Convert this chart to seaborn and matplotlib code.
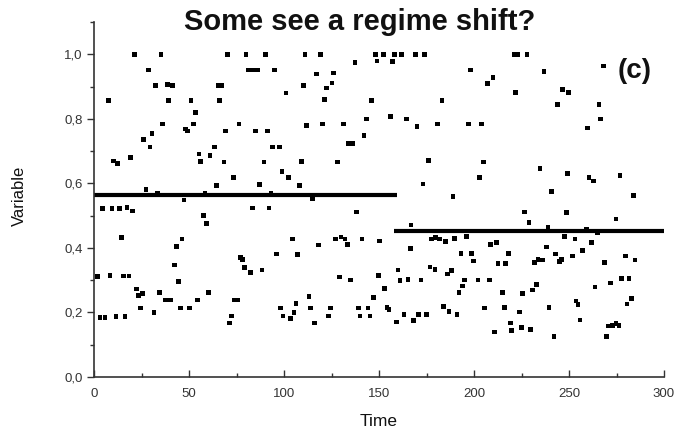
import matplotlib
matplotlib.use("Agg")
import matplotlib.pyplot as plt
from matplotlib.ticker import MultipleLocator, FuncFormatter
import seaborn as sns
import pandas as pd

# Observations: time step and measured variable
time = [
    1.8, 3.2, 4.4, 5.8, 7.5, 8.4, 9.5, 10.2, 11.6, 12.3, 13.5, 14.6, 15.4, 16.3, 17.4,
    18.4, 19.1, 20.4, 21.2, 22.3, 23.5, 24.4, 25.6, 26.1, 27.4, 28.6, 29.5, 30.5, 31.6,
    32.4, 33.3, 34.4, 35.3, 36.1, 37.7, 38.6, 39.3, 40.3, 41.2, 42.5, 43.3, 44.4, 45.4,
    46.3, 47.4, 48.2, 49.1,
    50.2, 51.0, 52.3, 53.3, 54.4, 55.3, 56.1, 57.5, 58.4, 59.1, 60.2, 61.1, 63.3, 64.4,
    65.3, 66.1, 67.4, 68.4, 69.3, 70.4, 71.2, 72.5, 73.5, 73.8, 75.8, 76.3, 77.2, 78.3,
    79.3, 80.0, 81.2, 82.3, 83.3, 83.5, 85.1, 86.1, 87.2, 88.4, 89.5, 90.4, 91.4, 92.1,
    93.2, 94.0, 94.9, 96.0, 97.5, 98.2, 98.9, 99.5,
    101.0, 102.3, 103.3, 104.4, 105.3, 106.3, 107.2, 108.3, 109.3, 110.2, 111.1, 111.9,
    113.2, 114.0, 115.1, 116.0, 117.2, 118.3, 119.1, 120.2, 121.2, 122.3, 123.5, 124.4,
    125.3, 126.0, 127.0, 128.0, 129.3, 130.0, 131.2, 132.1, 133.3, 134.0, 135.1, 136.2,
    137.4, 138.3, 139.1, 140.0, 141.0, 142.1, 143.3, 144.2, 145.3, 146.1, 147.2, 148.3,
    149.0, 149.6, 150.4,
    152.3, 153.0, 154.2, 155.3, 155.9, 157.0, 158.0, 159.1, 160.0, 161.0, 161.7, 163.2,
    164.4, 165.3, 166.5, 166.8, 168.0, 169.1, 170.0, 170.9, 172.1, 173.2, 173.8, 175.1,
    176.0, 176.8, 177.7, 179.5, 179.8, 180.9, 181.7, 183.2, 183.8, 185.1, 186.2, 186.8,
    188.0, 188.9, 189.8, 191.0, 192.1, 193.2, 194.0, 194.9, 196.0, 197.2, 198.3, 198.8,
    199.6,
    202.1, 203.0, 204.0, 204.9, 205.6, 207.0, 208.1, 208.8, 210.0, 210.9, 211.9, 212.6,
    214.9, 216.0, 216.5, 218.3, 219.1, 219.8, 221.2, 222.0, 222.8, 224.0, 225.1, 225.6,
    226.7, 227.9, 228.9, 229.6, 230.9, 231.7, 232.8, 233.7, 234.7, 236.2, 236.8, 238.1,
    238.9, 239.5, 240.7, 242.1, 243.0, 244.0, 244.9, 246.2, 246.7, 247.5, 248.6, 249.3,
    249.8,
    251.7, 253.2, 253.7, 254.7, 255.8, 257.0, 259.3, 259.6, 260.5, 261.7, 262.8, 263.7,
    264.9, 265.8, 266.7, 268.1, 268.8, 269.6, 270.7, 271.9, 273.0, 274.7, 274.7, 276.3,
    276.8, 277.7, 279.8, 280.5, 281.6, 282.8, 283.8, 284.7,
]
variable = [
    0.311, 0.185, 0.523, 0.185, 0.856, 0.315, 0.523, 0.669, 0.187, 0.662, 0.523, 0.433, 0.313, 0.188, 0.525,
    0.313, 0.680, 0.514, 1.000, 0.273, 0.252, 0.214, 0.258, 0.736, 0.581, 0.951, 0.713, 0.754, 0.200,
    0.904, 0.569, 0.262, 1.000, 0.784, 0.238, 0.907, 0.856, 0.238, 0.904, 0.347, 0.405, 0.296, 0.214,
    0.428, 0.549, 0.769, 0.762,
    0.214, 0.856, 0.784, 0.819, 0.238, 0.691, 0.668, 0.500, 0.569, 0.475, 0.262, 0.687, 0.713, 0.594,
    0.904, 0.856, 0.904, 0.666, 0.762, 1.000, 0.167, 0.189, 0.618, 0.238, 0.238, 0.784, 0.370, 0.364,
    0.339, 1.000, 0.951, 0.324, 0.524, 0.951, 0.762, 0.951, 0.596, 0.332, 0.666, 1.000, 0.762, 0.524,
    0.569, 0.713, 0.951, 0.381, 0.713, 0.214, 0.637, 0.189,
    0.880, 0.618, 0.181, 0.428, 0.200, 0.228, 0.380, 0.594, 0.668, 0.904, 1.000, 0.779,
    0.250, 0.214, 0.553, 0.167, 0.939, 0.409, 1.000, 0.784, 0.860, 0.895, 0.189, 0.214,
    0.911, 0.942, 0.428, 0.666, 0.310, 0.434, 0.784, 0.428, 0.411, 0.724, 0.301, 0.723,
    0.974, 0.511, 0.214, 0.189, 0.428, 0.749, 0.800, 0.214, 0.189, 0.856, 0.247, 1.000,
    0.979, 0.315, 0.421,
    1.000, 0.275, 0.215, 0.210, 0.808, 0.977, 1.000, 0.171, 0.332, 0.299, 1.000, 0.193,
    0.800, 0.302, 0.398, 0.471, 0.176, 1.000, 0.777, 0.193, 0.300, 0.598, 1.000, 0.193,
    0.670, 0.341, 0.428, 0.333, 0.432, 0.784, 0.428, 0.856, 0.219, 0.420, 0.319, 0.203,
    0.330, 0.559, 0.430, 0.193, 0.262, 0.383, 0.282, 0.301, 0.436, 0.784, 0.951, 0.383,
    0.359,
    0.300, 0.618, 0.784, 0.666, 0.214, 0.909, 0.301, 0.410, 0.928, 0.139, 0.416, 0.352,
    0.262, 0.215, 0.352, 0.383, 0.167, 0.144, 1.000, 0.881, 1.000, 0.201, 0.153, 0.259,
    0.511, 1.000, 0.478, 0.147, 0.269, 0.355, 0.286, 0.364, 0.646, 0.362, 0.946, 0.403,
    0.465, 0.215, 0.574, 0.126, 0.381, 0.845, 0.358, 0.364, 0.890, 0.436, 0.509, 0.630,
    0.881,
    0.375, 0.428, 0.236, 0.224, 0.177, 0.392, 0.459, 0.772, 0.619, 0.417, 0.607, 0.279,
    0.446, 0.844, 0.800, 0.964, 0.355, 0.125, 0.158, 0.291, 0.159, 0.165, 0.490, 0.160,
    0.624, 0.306, 0.375, 0.226, 0.305, 0.244, 0.562, 0.363,
]

# Two regimes: start, end and mean level of each
regime_start = [0, 158]
regime_end = [159.5, 300]
regime_mean = [0.563, 0.453]

x_ticks = [0, 50, 100, 150, 200, 250, 300]
y_ticks = [0.0, 0.2, 0.4, 0.6, 0.8, 1.0]

sns.set_style("ticks")
plt.rcParams["font.family"] = ["Liberation Sans", "DejaVu Sans"]

fig = plt.figure(figsize=(6.78, 4.34), dpi=100)
ax = fig.add_axes([94 / 678, 57 / 434, 570 / 678, 355 / 434])

df = pd.DataFrame({"Time": time, "Variable": variable})
sns.scatterplot(data=df, x="Time", y="Variable", ax=ax, marker="s",
                color="black", s=11, linewidth=0, edgecolor="none")

ax.hlines(regime_mean, regime_start, regime_end, colors="black", linewidth=3.0)

ax.set_xlim(0, 300)
ax.set_ylim(0, 1.1)
ax.set_xticks(x_ticks)
ax.set_yticks(y_ticks)
ax.xaxis.set_minor_locator(MultipleLocator(25))
ax.yaxis.set_minor_locator(MultipleLocator(0.1))
ax.yaxis.set_major_formatter(FuncFormatter(lambda v, _: f"{v:.1f}".replace(".", ",")))
ax.xaxis.set_major_formatter(FuncFormatter(lambda v, _: f"{int(v)}"))

ax.tick_params(axis="x", which="both", direction="in", colors="#333333",
               labelsize=9.5, pad=8)
ax.tick_params(axis="x", which="major", length=5, width=1)
ax.tick_params(axis="x", which="minor", length=3, width=1)
ax.tick_params(axis="y", which="both", direction="out", colors="#333333",
               labelsize=9.5, pad=3)
ax.tick_params(axis="y", which="major", length=5, width=1)
ax.tick_params(axis="y", which="minor", length=3, width=1)

for side in ("top", "right"):
    ax.spines[side].set_visible(False)
for side in ("left", "bottom"):
    ax.spines[side].set_color("#333333")
    ax.spines[side].set_linewidth(1.2)

ax.set_xlabel("Time", fontsize=12.5, color="#111111", va="center")
ax.set_ylabel("Variable", fontsize=12, color="#111111", va="center")
ax.xaxis.set_label_coords((379 - 94) / 570, (377 - 421) / 355)
ax.yaxis.set_label_coords((19 - 94) / 570, (377 - 196) / 355)

fig.text(360 / 678, 1 - 22 / 434, "Some see a regime shift?", ha="center", va="center",
         fontsize=21, fontweight="bold", color="#111111")
fig.text(635 / 678, 1 - 71 / 434, "(c)", ha="center", va="center", fontsize=20,
         fontweight="bold", color="#111111")

fig.savefig("out.png", dpi=100)
